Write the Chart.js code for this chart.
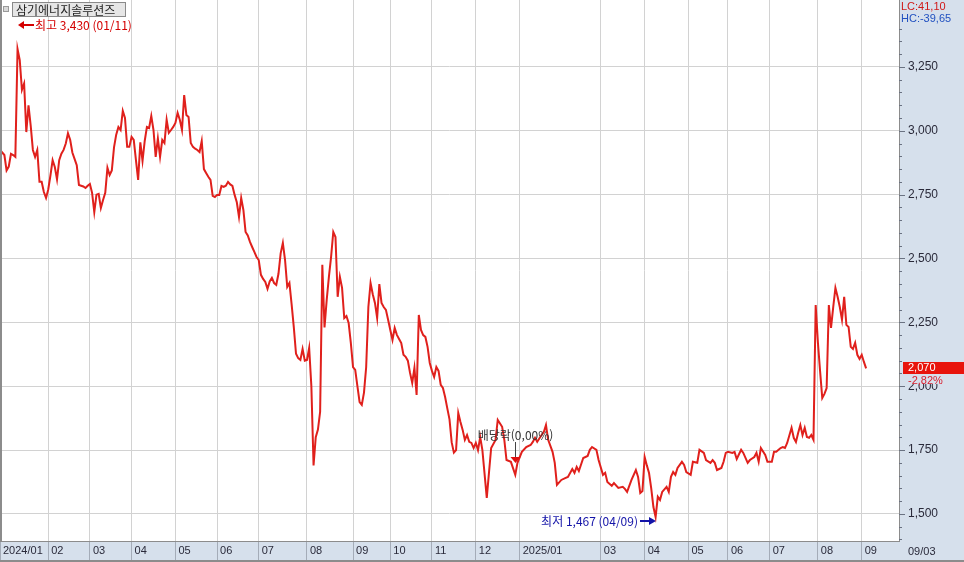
<!DOCTYPE html>
<html lang="ko">
<head>
<meta charset="UTF-8">
<title>삼기에너지솔루션즈</title>
<script src="https://cdn.jsdelivr.net/npm/chart.js"></script>
<style>
  html, body { margin: 0; padding: 0; background: #fff; }
  #wrap { position: relative; width: 964px; height: 562px; }
  canvas { display: block; }
</style>
</head>
<body>
<div id="wrap"><canvas id="c" width="964" height="562"></canvas></div>
<script>
// 종목 / 표시 텍스트
const stockName = '삼기에너지솔루션즈';
const highLabel = '최고 3,430 (01/11)';
const lowLabel = '최저 1,467 (04/09)';
const exDivLabel = '배당락(0,00%)';
const exDivDay = 235;
const lcText = 'LC:41,10';
const hcText = 'HC:-39,65';
const lastChange = '-2,82%';
const lastDate = '09/03';

// 월 구분 (거래일 인덱스)
const monthDays = [0, 22, 41, 60, 80, 99, 118, 140, 161, 178, 197, 217, 237, 274, 294, 314, 332, 351, 373, 393];
const monthLabels = ['2024/01', '02', '03', '04', '05', '06', '07', '08', '09', '10', '11', '12',
                     '2025/01', '03', '04', '05', '06', '07', '08', '09'];

// 종가 (거래일 인덱스, 가격)
const days = [
  0,1,2,3,4,5,6,7,8,9,10,11,12,13,14,15,16,17,18,19,20,21,22,23,24,25,26,27,28,29,
  30,31,32,33,34,35,36,37,38,39,40,41,42,43,44,45,46,47,48,49,50,51,52,53,54,55,56,57,58,59,
  60,61,62,63,64,65,66,67,68,69,70,71,72,73,74,75,76,77,78,79,80,81,82,83,84,85,86,87,88,89,
  90,91,92,93,94,95,96,97,98,99,100,101,102,103,104,105,106,107,108,109,110,111,112,113,114,115,116,117,118,119,
  120,121,122,123,124,125,126,127,128,129,130,131,132,133,134,135,136,137,138,139,140,141,142,143,144,145,146,147,148,149,
  150,151,152,153,154,155,156,157,158,159,160,161,162,163,164,165,166,167,168,169,170,171,172,173,174,175,176,177,178,179,
  180,181,182,183,184,185,186,187,188,189,190,191,192,193,194,195,196,197,198,199,200,201,202,203,204,205,206,207,208,209,
  210,211,212,213,214,215,216,217,218,219,220,222,223,224,226,227,229,230,231,233,235,236,238,240,242,243,244,245,247,248,
  249,250,252,253,254,256,258,259,261,262,263,264,266,268,269,270,272,273,275,276,277,279,280,282,284,285,286,288,290,291,
  292,293,294,295,296,297,298,299,300,301,302,304,305,306,307,308,309,311,312,313,315,316,318,319,321,322,324,325,326,327,
  329,330,331,332,334,335,336,338,339,341,342,344,345,346,347,349,350,352,353,354,356,357,358,359,361,362,363,364,365,366,
  367,368,369,370,371,372,373,374,375,376,377,378,379,380,381,382,383,384,385,386,387,388,389,390,391,392,393,394,395
];
const closes = [
  2925,2915,2905,2845,2860,2910,2905,2898,3320,3277,3160,3185,2995,3100,3020,2925,2898,2925,2800,2800,2760,2737,2770,2825,2885,2858,2810,2885,2910,2925,
  2950,2990,2965,2915,2890,2865,2788,2785,2782,2776,2785,2792,2757,2682,2750,2753,2698,2729,2757,2855,2827,2845,2935,2985,3015,3003,3078,3050,2937,2937,
  2976,2964,2885,2808,2955,2882,2960,3015,3011,3058,3003,2898,2970,2898,2964,2952,3043,2992,3003,3015,3031,3070,3043,3003,3140,3062,3054,2952,2937,2930,
  2925,2917,2960,2850,2835,2820,2808,2745,2741,2749,2749,2784,2780,2785,2800,2790,2784,2749,2720,2663,2737,2690,2604,2590,2565,2545,2526,2506,2494,2436,
  2420,2408,2381,2410,2424,2404,2397,2440,2520,2561,2494,2389,2404,2320,2230,2127,2110,2103,2146,2100,2103,2150,2000,1690,1800,1830,1900,2475,2230,2338,
  2428,2506,2604,2584,2350,2428,2385,2267,2275,2248,2170,2075,2064,2000,1938,1927,1975,2075,2310,2404,2360,2326,2267,2400,2326,2310,2299,2260,2220,2181,
  2228,2201,2185,2169,2123,2115,2100,2052,2013,2072,1966,2279,2220,2200,2193,2154,2091,2060,2036,2075,2060,2005,1993,1958,1913,1870,1780,1740,1750,1895,
  1860,1829,1790,1809,1782,1778,1758,1778,1750,1801,1750,1563,1661,1758,1790,1868,1841,1790,1711,1704,1653,1700,1743,1762,1770,1782,1798,1782,1809,1821,
  1848,1790,1743,1700,1614,1633,1641,1645,1676,1661,1684,1668,1719,1727,1751,1762,1751,1711,1653,1661,1625,1610,1621,1602,1606,1598,1586,1633,1672,1645,
  1582,1590,1723,1690,1660,1600,1527,1488,1567,1555,1586,1606,1586,1645,1664,1653,1680,1704,1692,1664,1653,1704,1700,1751,1739,1711,1700,1711,1700,1672,
  1680,1704,1739,1743,1739,1743,1715,1751,1739,1700,1711,1723,1739,1704,1758,1731,1704,1704,1743,1743,1758,1762,1758,1778,1837,1798,1782,1817,1848,1809,
  1837,1801,1798,1809,1790,2318,2173,2060,1954,1970,1993,2318,2228,2310,2385,2350,2310,2260,2350,2240,2232,2154,2146,2170,2123,2107,2123,2095,2070
];

const panelColor = '#d6e0ec';
const lineColor = '#e0201c';
const gridColor = '#d2d2d2';
const edgeColor = '#8c8c8c';
const labelFont = '"Liberation Sans", Arial, sans-serif';
const krFont = '"Noto Sans CJK KR", sans-serif';

const decor = {
  id: 'decor',
  beforeDraw(chart) {
    const { ctx, chartArea: a, width, height } = chart;
    ctx.save();
    ctx.fillStyle = '#ffffff';
    ctx.fillRect(0, 0, width, height);
    ctx.fillStyle = panelColor;
    ctx.fillRect(a.right, 0, width - a.right, height);
    ctx.fillRect(0, a.bottom, a.right, height - a.bottom);
    ctx.restore();
  },
  afterDraw(chart) {
    const { ctx, chartArea: a, width, height } = chart;
    const xs = chart.scales.x, ys = chart.scales.y;
    ctx.save();

    // y축 눈금 (위쪽 LC/HC 자리는 비움)
    ctx.strokeStyle = '#6a7282';
    ctx.lineWidth = 1;
    for (let v = 1400; v <= 3400; v += 50) {
      const y = Math.round(ys.getPixelForValue(v)) + 0.5;
      const len = v % 250 === 0 ? 6 : 3;
      ctx.beginPath();
      ctx.moveTo(a.right, y);
      ctx.lineTo(a.right + len, y);
      ctx.stroke();
    }

    // 테두리
    ctx.fillStyle = edgeColor;
    ctx.fillRect(0, 0, 2, a.bottom);
    ctx.fillRect(0, height - 2, width, 2);

    // 종목명 박스
    ctx.fillStyle = '#9a9a9a';
    ctx.fillRect(3, 6, 6, 6);
    ctx.fillStyle = '#d8d8d8';
    ctx.fillRect(4, 7, 4, 4);
    ctx.fillStyle = '#e6e6e6';
    ctx.fillRect(12, 2, 113, 14);
    ctx.strokeStyle = '#8a8a8a';
    ctx.strokeRect(12.5, 2.5, 113, 14);
    ctx.fillStyle = '#222';
    ctx.font = '12px ' + krFont;
    ctx.textBaseline = 'middle';
    ctx.textAlign = 'left';
    ctx.fillText(stockName, 16, 10);

    // 최고
    let maxI = 0, minI = 0;
    closes.forEach((c, i) => { if (c > closes[maxI]) maxI = i; if (c < closes[minI]) minI = i; });
    const hx = Math.round(xs.getPixelForValue(days[maxI]));
    ctx.fillStyle = '#d40000';
    ctx.strokeStyle = '#d40000';
    ctx.beginPath();
    ctx.moveTo(hx, 25); ctx.lineTo(hx + 6, 21); ctx.lineTo(hx + 6, 29); ctx.closePath(); ctx.fill();
    ctx.lineWidth = 2;
    ctx.beginPath(); ctx.moveTo(hx + 5, 25); ctx.lineTo(hx + 16, 25); ctx.stroke();
    ctx.fillText(highLabel, hx + 17, 25);

    // 최저
    const lx = Math.round(xs.getPixelForValue(days[minI]));
    const ly = Math.round(ys.getPixelForValue(closes[minI])) + 4;
    ctx.fillStyle = '#1414a8';
    ctx.strokeStyle = '#1414a8';
    ctx.beginPath(); ctx.moveTo(lx - 16, ly); ctx.lineTo(lx - 5, ly); ctx.stroke();
    ctx.beginPath();
    ctx.moveTo(lx, ly); ctx.lineTo(lx - 7, ly - 4); ctx.lineTo(lx - 7, ly + 4); ctx.closePath(); ctx.fill();
    ctx.textAlign = 'right';
    ctx.fillText(lowLabel, lx - 18, ly);

    // 배당락
    const di = days.indexOf(exDivDay);
    const dx = Math.round(xs.getPixelForValue(exDivDay)) + 0.5;
    const dy = Math.round(ys.getPixelForValue(closes[di]));
    ctx.strokeStyle = '#444';
    ctx.lineWidth = 1;
    ctx.beginPath(); ctx.moveTo(dx, dy - 33); ctx.lineTo(dx, dy - 17); ctx.stroke();
    ctx.fillStyle = '#e01010';
    ctx.beginPath();
    ctx.moveTo(dx - 5, dy - 18); ctx.lineTo(dx + 5, dy - 18); ctx.lineTo(dx, dy - 12); ctx.closePath(); ctx.fill();
    ctx.fillStyle = '#333';
    ctx.textAlign = 'center';
    ctx.fillText(exDivLabel, dx, dy - 40);

    // LC / HC
    ctx.textAlign = 'left';
    ctx.font = '11px ' + labelFont;
    ctx.fillStyle = '#d01818';
    ctx.fillText(lcText, a.right + 2, 7);
    ctx.fillStyle = '#2050c0';
    ctx.fillText(hcText, a.right + 2, 19);

    // 현재가 태그
    const last = closes[closes.length - 1];
    const py = Math.round(ys.getPixelForValue(last));
    ctx.fillStyle = panelColor;
    ctx.fillRect(a.right + 4, py + 7, width - a.right - 4, 9);
    ctx.fillStyle = '#e8140c';
    ctx.fillRect(a.right + 4, py - 6, width - a.right - 4, 12);
    ctx.fillStyle = '#ffffff';
    ctx.fillText(last.toLocaleString('en-US'), a.right + 9, py);
    ctx.fillStyle = '#d82030';
    ctx.fillText(lastChange, a.right + 9, py + 13);

    // 날짜
    ctx.fillStyle = '#2a2a3a';
    ctx.fillText(lastDate, a.right + 9, (a.bottom + height) / 2);

    ctx.restore();
  }
};

new Chart(document.getElementById('c'), {
  type: 'line',
  data: {
    datasets: [{
      data: days.map((d, i) => ({ x: d, y: closes[i] })),
      borderColor: lineColor,
      borderWidth: 2,
      pointRadius: 0,
      tension: 0,
      fill: false
    }]
  },
  options: {
    responsive: false,
    animation: false,
    layout: { padding: 0 },
    plugins: { legend: { display: false }, tooltip: { enabled: false } },
    scales: {
      x: {
        type: 'linear',
        min: 0,
        max: 410,
        afterBuildTicks: s => { s.ticks = monthDays.map(v => ({ value: v })); },
        afterFit: s => { s.height = 21; s.paddingLeft = 0; s.paddingRight = 0; },
        grid: { color: gridColor, lineWidth: 1, drawTicks: true, tickLength: 21, tickColor: '#a4acb8' },
        border: { display: true, color: edgeColor },
        ticks: {
          autoSkip: false, maxRotation: 0, align: 'start', labelOffset: 3, padding: -18,
          color: '#2a2a3a', font: { family: labelFont, size: 11 },
          callback: (v, i) => monthLabels[i]
        }
      },
      y: {
        position: 'right',
        min: 1394,
        max: 3512,
        afterBuildTicks: s => {
          const t = [];
          for (let v = 1400; v <= 3500; v += 50) t.push({ value: v });
          s.ticks = t;
        },
        afterFit: s => { s.width = 65; s.paddingTop = 0; s.paddingBottom = 0; },
        grid: {
          color: c => (c.tick && c.tick.value % 250 === 0 && c.tick.value <= 3250) ? gridColor : 'rgba(0,0,0,0)',
          drawTicks: false
        },
        border: { display: true, color: edgeColor },
        ticks: {
          autoSkip: false, padding: 9, color: '#2a2a3a', font: { family: labelFont, size: 12 },
          callback: v => (v % 250 === 0 && v >= 1500 && v <= 3250) ? v.toLocaleString('en-US') : ''
        }
      }
    }
  },
  plugins: [decor]
});
</script>
</body>
</html>
